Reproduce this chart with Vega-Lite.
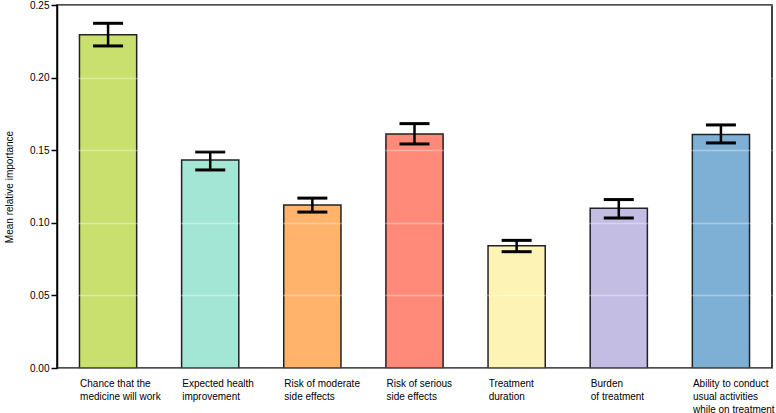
{
  "$schema": "https://vega.github.io/schema/vega-lite/v6.json",
  "width": 715,
  "height": 363,
  "autosize": {"type": "none"},
  "padding": {"left": 57, "top": 5, "right": 4, "bottom": 45},
  "background": "white",
  "config": {
    "font": "Liberation Sans",
    "view": {"stroke": "black", "strokeWidth": 1.5}
  },
  "data": {
    "values": [
      {"cat": "Chance that the|medicine will work", "v": 0.2295, "lo": 0.2218, "hi": 0.2374, "c": "#c9e06e"},
      {"cat": "Expected health|improvement", "v": 0.1433, "lo": 0.1364, "hi": 0.1488, "c": "#a3e6d6"},
      {"cat": "Risk of moderate|side effects", "v": 0.1123, "lo": 0.1074, "hi": 0.1170, "c": "#ffb36b"},
      {"cat": "Risk of serious|side effects", "v": 0.1612, "lo": 0.1543, "hi": 0.1683, "c": "#ff8a7a"},
      {"cat": "Treatment|duration", "v": 0.0842, "lo": 0.0801, "hi": 0.0879, "c": "#fdf3b5"},
      {"cat": "Burden|of treatment", "v": 0.1100, "lo": 0.1033, "hi": 0.1160, "c": "#c3bde3"},
      {"cat": "Ability to conduct|usual activities|while on treatment", "v": 0.1608, "lo": 0.1550, "hi": 0.1674, "c": "#7eb0d6"}
    ]
  },
  "encoding": {
    "x": {
      "field": "cat",
      "type": "nominal",
      "sort": null,
      "scale": {"paddingInner": 0.44, "paddingOuter": 0.22},
      "axis": {
        "title": null,
        "labelAngle": 0,
        "labelExpr": "split(datum.label, '|')",
        "labelAlign": "left",
        "labelBaseline": "top",
        "labelOffset": -28,
        "labelPadding": 10,
        "labelFontSize": 10,
        "labelLineHeight": 13,
        "labelColor": "black",
        "ticks": false,
        "domain": false,
        "labelLimit": 200
      }
    }
  },
  "layer": [
    {
      "mark": {"type": "bar", "stroke": "#222", "strokeWidth": 1.5},
      "encoding": {
        "y": {
          "field": "v",
          "type": "quantitative",
          "scale": {"domain": [0, 0.25], "nice": false},
          "axis": {
            "title": "Mean relative importance",
            "titleFontSize": 10,
            "titleFontWeight": "normal",
            "titleColor": "black",
            "titlePadding": 15,
            "values": [0, 0.05, 0.1, 0.15, 0.2, 0.25],
            "format": ".2f",
            "labelFontSize": 10,
            "labelColor": "black",
            "tickColor": "black",
            "tickSize": 6,
            "tickWidth": 1.5,
            "domainColor": "black",
            "domainWidth": 1.5,
            "grid": true,
            "gridColor": "white",
            "gridOpacity": 0.35,
            "gridWidth": 1.5,
            "zindex": 1
          }
        },
        "color": {"field": "c", "type": "nominal", "scale": null, "legend": null}
      }
    },
    {
      "mark": {"type": "rule", "color": "black", "strokeWidth": 2.5, "opacity": 1},
      "encoding": {
        "y": {"field": "lo", "type": "quantitative"},
        "y2": {"field": "hi"}
      }
    },
    {
      "mark": {"type": "tick", "color": "black", "thickness": 3, "size": 30, "opacity": 1},
      "encoding": {"y": {"field": "lo", "type": "quantitative"}}
    },
    {
      "mark": {"type": "tick", "color": "black", "thickness": 3, "size": 30, "opacity": 1},
      "encoding": {"y": {"field": "hi", "type": "quantitative"}}
    }
  ]
}
